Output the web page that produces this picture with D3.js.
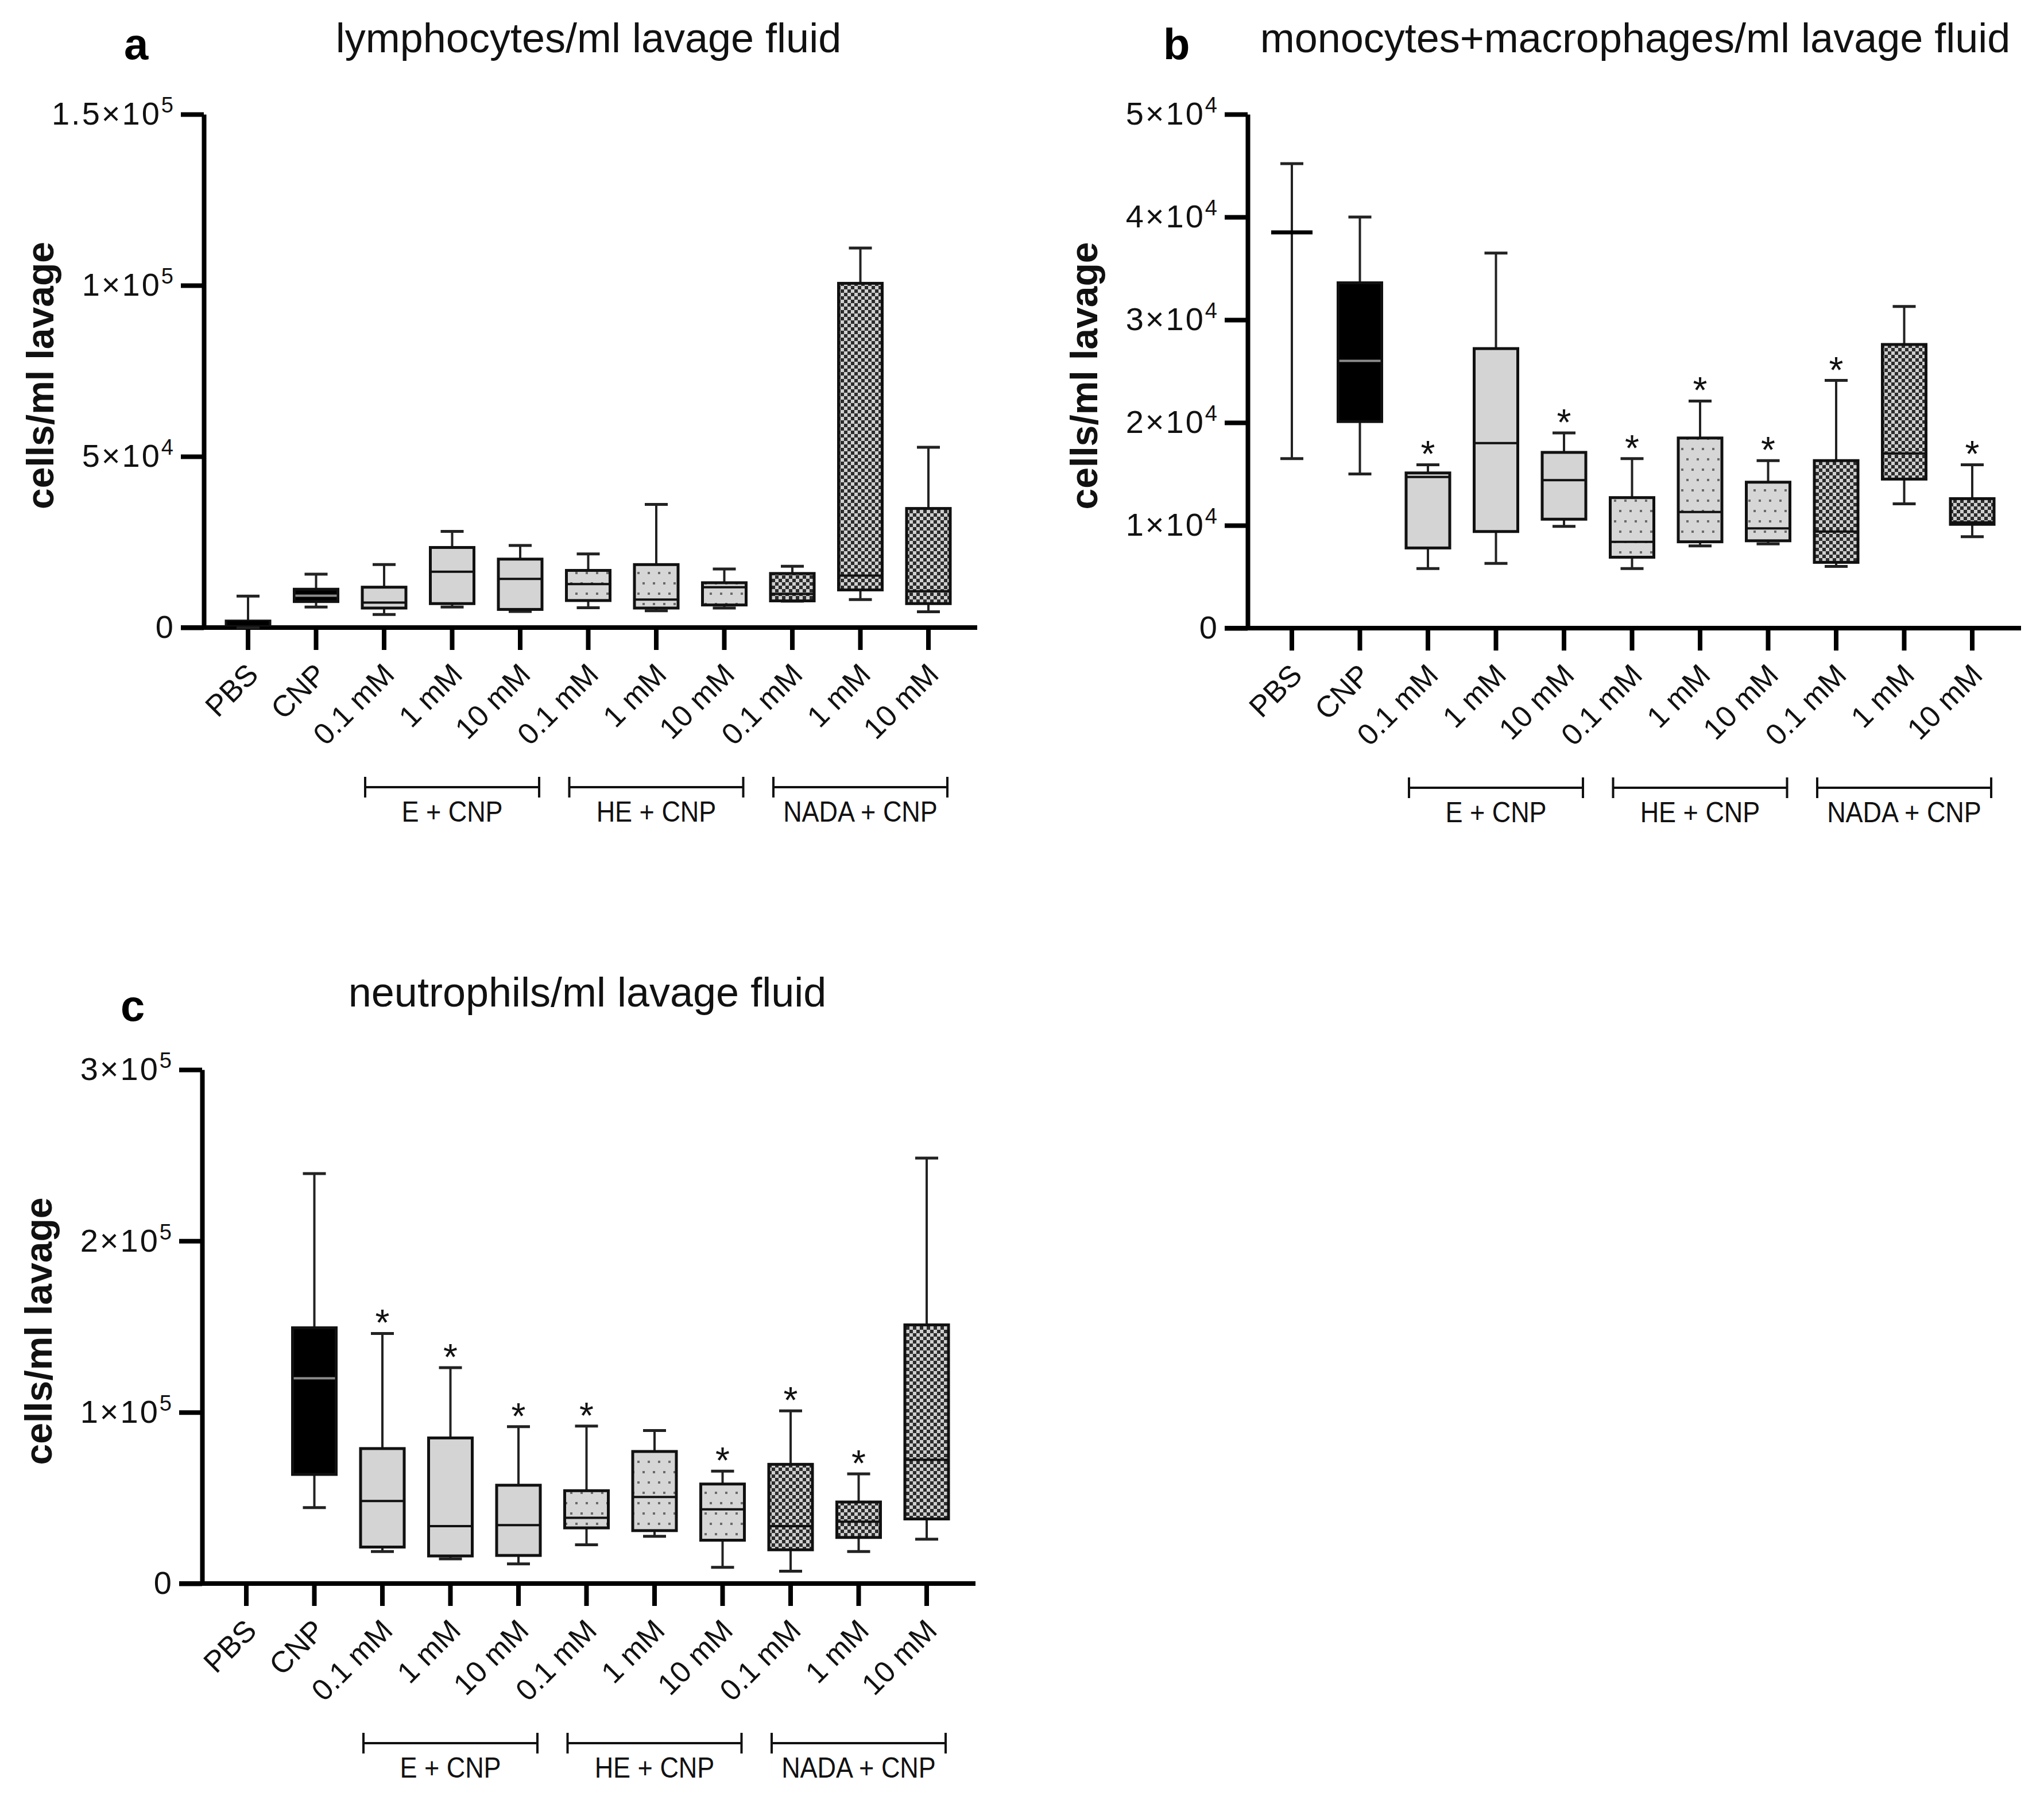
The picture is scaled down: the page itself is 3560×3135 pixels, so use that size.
<!DOCTYPE html>
<html>
<head>
<meta charset="utf-8">
<script src="https://cdn.jsdelivr.net/npm/d3@7"></script>
<style>
  body { margin: 0; background: #fff; }
  svg { display: block; }
</style>
</head>
<body>
<script>
// categories along every x axis
const categories = ["PBS", "CNP", "0.1 mM", "1 mM", "10 mM", "0.1 mM", "1 mM", "10 mM", "0.1 mM", "1 mM", "10 mM"];
const treatment = ["PBS", "CNP", "E", "E", "E", "HE", "HE", "HE", "NADA", "NADA", "NADA"];
const groupLabels = ["E + CNP", "HE + CNP", "NADA + CNP"];
const groupMembers = [[2, 3, 4], [5, 6, 7], [8, 9, 10]];

// box stats per category: [min, q1, median, q3, max]
const lymphStats = [
  [0, 700, 1300, 1900, 9200],
  [6000, 7600, 9300, 11200, 15600],
  [3800, 5700, 7300, 11800, 18400],
  [6000, 7000, 16300, 23400, 28100],
  [4700, 5300, 14200, 20000, 24000],
  [5800, 7900, 12700, 16700, 21500],
  [4900, 5700, 8200, 18400, 36000],
  [5700, 6600, 11800, 13100, 17100],
  [7700, 7800, 9800, 15800, 17900],
  [8200, 11000, 15200, 100600, 110900],
  [4600, 7000, 10600, 34800, 52700]
];
const lymphStars = [0, 0, 0, 0, 0, 0, 0, 0, 0, 0, 0];
const lymphTicks = [0, 5e4, 1e5, 1.5e5];
const lymphTickLabels = ["0", "5×10^4", "1×10^5", "1.5×10^5"];

const monoStats = [
  [16500, 38500, 38500, 38500, 45200],
  [15000, 20100, 26000, 33600, 40000],
  [5800, 7800, 14700, 15100, 15900],
  [6300, 9400, 18000, 27200, 36500],
  [9900, 10600, 14400, 17100, 19000],
  [5800, 6900, 8400, 12700, 16500],
  [8000, 8400, 11300, 18500, 22100],
  [8200, 8500, 9700, 14200, 16300],
  [6000, 6400, 9400, 16300, 24100],
  [12100, 14500, 17000, 27600, 31300],
  [8900, 10100, 10300, 12600, 15900]
];
const monoStars = [0, 0, 1, 0, 1, 1, 1, 1, 1, 0, 1];
const monoTicks = [0, 1e4, 2e4, 3e4, 4e4, 5e4];
const monoTickLabels = ["0", "1×10^4", "2×10^4", "3×10^4", "4×10^4", "5×10^4"];

const neutroStats = [
  null,
  [44300, 63700, 119800, 149300, 239300],
  [18700, 21300, 48200, 78800, 146000],
  [14400, 16100, 33500, 85000, 126000],
  [11500, 16400, 34100, 57400, 91600],
  [22600, 32500, 38400, 54200, 91900],
  [27600, 30900, 50500, 77100, 89300],
  [9500, 25300, 43300, 58100, 65600],
  [7200, 19700, 33500, 69600, 100800],
  [18700, 26900, 36100, 47600, 64000],
  [25900, 37700, 72200, 151000, 248400]
];
const neutroStars = [0, 0, 1, 1, 1, 1, 0, 1, 1, 1, 0];
const neutroTicks = [0, 1e5, 2e5, 3e5];
const neutroTickLabels = ["0", "1×10^5", "2×10^5", "3×10^5"];

const width = 3560;
const height = 3135;
const font = "'Liberation Sans', Arial, Helvetica, sans-serif";

const fillFor = {PBS: "#000", CNP: "#000", E: "#d4d4d4", HE: "url(#dots)", NADA: "url(#check)"};
const medianFor = {PBS: "#000", CNP: "#8c8c8c", E: "#111", HE: "#111", NADA: "#111"};

const svg = d3.select("body").append("svg")
      .attr("width", width)
      .attr("height", height)
      .style("font-family", font);

svg.append("rect").attr("width", width).attr("height", height).attr("fill", "#fff");

// fill patterns
const defs = svg.append("defs");
const dots = defs.append("pattern")
      .attr("id", "dots")
      .attr("patternUnits", "userSpaceOnUse")
      .attr("width", 18).attr("height", 36);
dots.append("rect").attr("width", 18).attr("height", 36).attr("fill", "#d6d6d6");
dots.append("rect").attr("x", 3).attr("y", 6).attr("width", 4).attr("height", 4).attr("fill", "#6a6a6a");
dots.append("rect").attr("x", 12).attr("y", 24).attr("width", 4).attr("height", 4).attr("fill", "#6a6a6a");

const check = defs.append("pattern")
      .attr("id", "check")
      .attr("patternUnits", "userSpaceOnUse")
      .attr("width", 12).attr("height", 12);
check.append("rect").attr("width", 12).attr("height", 12).attr("fill", "#cfcfcf");
check.append("rect").attr("width", 6).attr("height", 6).attr("fill", "#2c2c2c");
check.append("rect").attr("x", 6).attr("y", 6).attr("width", 6).attr("height", 6).attr("fill", "#2c2c2c");


function drawPanel(p) {
      const step = 118.5;
      const y = d3.scaleLinear()
            .domain([0, p.ticks[p.ticks.length - 1]])
            .range([p.zeroY, p.topY]);

      const x = d3.scaleBand()
            .domain(d3.range(categories.length))
            .range([p.axisX + 77 - step / 2, p.axisX + 77 - step / 2 + step * categories.length])
            .padding(0);
      const cx = i => x(i) + x.bandwidth() / 2;

      const g = svg.append("g");

      // y axis
      const yAxis = g.append("g")
            .attr("transform", `translate(${p.axisX}, 0)`)
            .call(d3.axisLeft(y)
                  .tickValues(p.ticks)
                  .tickSize(40)
                  .tickSizeOuter(0)
                  .tickPadding(10)
                  .tickFormat((d, i) => p.tickLabels[i]));
      yAxis.select(".domain").attr("stroke", "#000").attr("stroke-width", 8);
      yAxis.selectAll(".tick line").attr("stroke", "#000").attr("stroke-width", 8);
      yAxis.selectAll(".tick text")
            .attr("font-family", font)
            .attr("font-size", 56)
            .attr("letter-spacing", 3)
            .attr("fill", "#111")
            .each(function(d, i) {
                  const [base, exp] = p.tickLabels[i].split("^");
                  const t = d3.select(this).text(base);
                  if (exp) {
                        t.append("tspan").attr("dy", "-0.55em").attr("font-size", "0.68em").text(exp);
                  }
            });

      // x axis
      const xAxis = g.append("g")
            .attr("transform", `translate(0, ${p.zeroY})`)
            .call(d3.axisBottom(x)
                  .tickSize(39)
                  .tickSizeOuter(0)
                  .tickFormat(i => categories[i]));
      xAxis.select(".domain").remove();
      xAxis.selectAll(".tick line").attr("stroke", "#000").attr("stroke-width", 8);
      xAxis.selectAll(".tick text")
            .attr("font-family", font)
            .attr("font-size", 52)
            .attr("fill", "#111")
            .attr("y", 0)
            .attr("dy", "0.35em")
            .attr("text-anchor", "end")
            .attr("transform", "translate(8, 72) rotate(-45)");
      g.append("line")
            .attr("x1", p.axisX - 40)
            .attr("x2", p.axisX + 1347)
            .attr("y1", p.zeroY).attr("y2", p.zeroY)
            .attr("stroke", "#000")
            .attr("stroke-width", 8);

      // boxes
      const boxW = 76;
      const capW = 40;
      const items = p.stats.map((s, i) => ({s, i})).filter(d => d.s);
      const box = g.selectAll(".box").data(items).enter().append("g").attr("class", "box");

      box.append("line")
            .attr("x1", d => cx(d.i)).attr("x2", d => cx(d.i))
            .attr("y1", d => y(d.s[0])).attr("y2", d => y(d.s[1]))
            .attr("stroke", "#222").attr("stroke-width", 4);
      box.append("line")
            .attr("x1", d => cx(d.i)).attr("x2", d => cx(d.i))
            .attr("y1", d => y(d.s[3])).attr("y2", d => y(d.s[4]))
            .attr("stroke", "#222").attr("stroke-width", 4);
      [0, 4].forEach(k => {
            box.append("line")
                  .attr("x1", d => cx(d.i) - capW / 2).attr("x2", d => cx(d.i) + capW / 2)
                  .attr("y1", d => y(d.s[k])).attr("y2", d => y(d.s[k]))
                  .attr("stroke", "#222").attr("stroke-width", 5);
      });
      box.append("rect")
            .attr("x", d => cx(d.i) - boxW / 2)
            .attr("width", boxW)
            .attr("y", d => y(d.s[3]))
            .attr("height", d => y(d.s[1]) - y(d.s[3]))
            .attr("fill", d => fillFor[treatment[d.i]])
            .attr("stroke", "#111")
            .attr("stroke-width", 5);
      box.append("line")
            .attr("x1", d => cx(d.i) - boxW / 2 + 2).attr("x2", d => cx(d.i) + boxW / 2 - 2)
            .attr("y1", d => y(d.s[2])).attr("y2", d => y(d.s[2]))
            .attr("stroke", d => medianFor[treatment[d.i]])
            .attr("stroke-width", d => treatment[d.i] === "PBS" ? 7 : 4);

      // significance stars
      g.selectAll(".star")
            .data(items.filter(d => p.stars[d.i]))
            .enter()
            .append("text")
            .attr("x", d => cx(d.i))
            .attr("y", d => y(d.s[4]) + 4)
            .attr("text-anchor", "middle")
            .attr("font-size", 64)
            .attr("fill", "#111")
            .text("*");

      // treatment group brackets
      groupMembers.forEach((m, k) => {
            const x0 = cx(m[0]) - 33;
            const x1 = cx(m[m.length - 1]) + 33;
            const yb = p.zeroY + 278;
            g.append("line").attr("x1", x0).attr("x2", x1).attr("y1", yb).attr("y2", yb)
                  .attr("stroke", "#111").attr("stroke-width", 4);
            [x0, x1].forEach(xe => {
                  g.append("line").attr("x1", xe).attr("x2", xe).attr("y1", yb - 18).attr("y2", yb + 18)
                        .attr("stroke", "#111").attr("stroke-width", 4);
            });
            g.append("text")
                  .attr("transform", `translate(${(x0 + x1) / 2}, ${p.zeroY + 338}) scale(0.9, 1)`)
                  .attr("text-anchor", "middle")
                  .attr("font-size", 50)
                  .attr("fill", "#111")
                  .text(groupLabels[k]);
      });

      // y label
      g.append("text")
            .attr("transform", `translate(${p.axisX - 285}, ${(p.zeroY + p.topY) / 2 + 8}) rotate(-90)`)
            .attr("text-anchor", "middle")
            .attr("dy", "0.35em")
            .attr("font-size", 66)
            .attr("font-weight", "bold")
            .attr("fill", "#111")
            .text("cells/ml lavage");

      // title and panel letter
      g.append("text")
            .attr("x", p.titleX)
            .attr("y", p.titleY)
            .attr("text-anchor", "middle")
            .attr("font-size", 72)
            .attr("fill", "#111")
            .text(p.title);
      g.append("text")
            .attr("x", p.letterX)
            .attr("y", p.letterY)
            .attr("font-size", 76)
            .attr("font-weight", "bold")
            .attr("fill", "#000")
            .text(p.letter);
}


drawPanel({
      axisX: 355, zeroY: 1093, topY: 199,
      stats: lymphStats, stars: lymphStars, ticks: lymphTicks, tickLabels: lymphTickLabels,
      title: "lymphocytes/ml lavage fluid", titleX: 1025, titleY: 91,
      letter: "a", letterX: 216, letterY: 103
});

drawPanel({
      axisX: 2173, zeroY: 1094, topY: 199,
      stats: monoStats, stars: monoStars, ticks: monoTicks, tickLabels: monoTickLabels,
      title: "monocytes+macrophages/ml lavage fluid", titleX: 2848, titleY: 91,
      letter: "b", letterX: 2026, letterY: 103
});

drawPanel({
      axisX: 352, zeroY: 2758, topY: 1863,
      stats: neutroStats, stars: neutroStars, ticks: neutroTicks, tickLabels: neutroTickLabels,
      title: "neutrophils/ml lavage fluid", titleX: 1023, titleY: 1753,
      letter: "c", letterX: 210, letterY: 1778
});
</script>
</body>
</html>
